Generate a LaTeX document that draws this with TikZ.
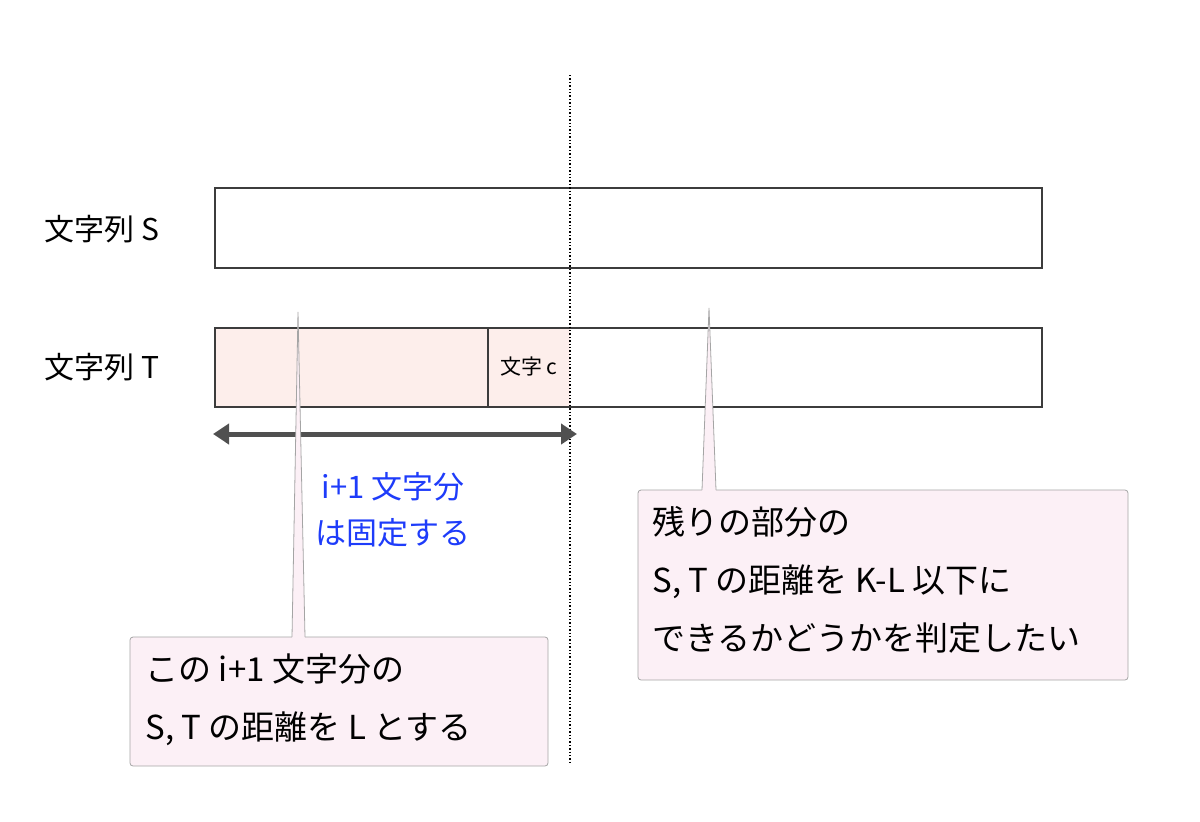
\documentclass[tikz,border=0pt]{standalone}
\usepackage{fontspec}
\setmainfont{Noto Sans CJK JP}
\usetikzlibrary{arrows.meta}
\usetikzlibrary{positioning}
\definecolor{rowpink}{RGB}{253,238,235}
\definecolor{notepink}{RGB}{252,240,246}
\definecolor{noteedge}{RGB}{165,165,165}
\definecolor{boxedge}{RGB}{60,60,60}
\definecolor{fixblue}{RGB}{30,60,250}
\tikzset{
  strbox/.style={draw=boxedge, line width=1.8pt, rectangle, inner sep=0pt},
  rowlabel/.style={font=\fontsize{30}{34}\selectfont, anchor=west},
  notebox/.style={draw=noteedge, fill=notepink, line width=0.8pt, rounded corners=3pt,
    inner sep=0pt},
  notetext/.style={font=\fontsize{33}{58}\selectfont, align=left, anchor=north west},
}
\begin{document}
\begin{tikzpicture}[x=1pt, y=-1pt]
  \useasboundingbox (0,0) rectangle (1200,822);

  % strings
  \node[rowlabel] (lblS) at (41,229) {文字列 S};
  \node[rowlabel] (lblT) at (41,367) {文字列 T};
  \fill[rowpink] (215,328) rectangle (570,407);
  \draw[strbox] (215,188) rectangle (1042,268);
  \draw[strbox] (215,328) rectangle (1042,407);
  \draw[strbox] (488,328) -- (488,407);
  \node[font=\fontsize{21}{24}\selectfont] (chc) at (529,367) {文字 c};

  % boundary
  \coordinate (cutTop) at (570,75);
  \coordinate (cutBot) at (570,762);
  \draw[line width=1.4pt, dotted] (cutTop) -- (cutBot);

  % fixed span
  \coordinate (spanL) at (213,434);
  \coordinate (spanR) at (577,434);
  \draw[{Triangle[length=16pt,width=20pt]}-{Triangle[length=16pt,width=20pt]},
    line width=5pt, draw=boxedge!90, fill=boxedge!90] (spanL) -- (spanR);
  \node[text=fixblue, font=\fontsize{31}{46}\selectfont, align=center] (fixed) at (393,510)
    {i+1 文字分\\は固定する};

  % callouts
  \draw[notebox] (130,637) rectangle (548,766);
  \draw[notebox] (638,490) rectangle (1128,680);
  \fill[notepink] (292,638.5) -- (298,312) -- (305,638.5) -- cycle;
  \draw[noteedge, line width=0.8pt] (292,637) -- (298,312) -- (305,637);
  \fill[notepink] (702,491.5) -- (709,308) -- (716,491.5) -- cycle;
  \draw[noteedge, line width=0.8pt] (702,490) -- (709,308) -- (716,490);

  \node[notetext] (noteL) at (142,650) {この i+1 文字分の\\S, T の距離を L とする};
  \node[notetext] (noteR) at (649,503) {残りの部分の\\S, T の距離を K-L 以下に\\できるかどうかを判定したい};
\end{tikzpicture}
\end{document}
